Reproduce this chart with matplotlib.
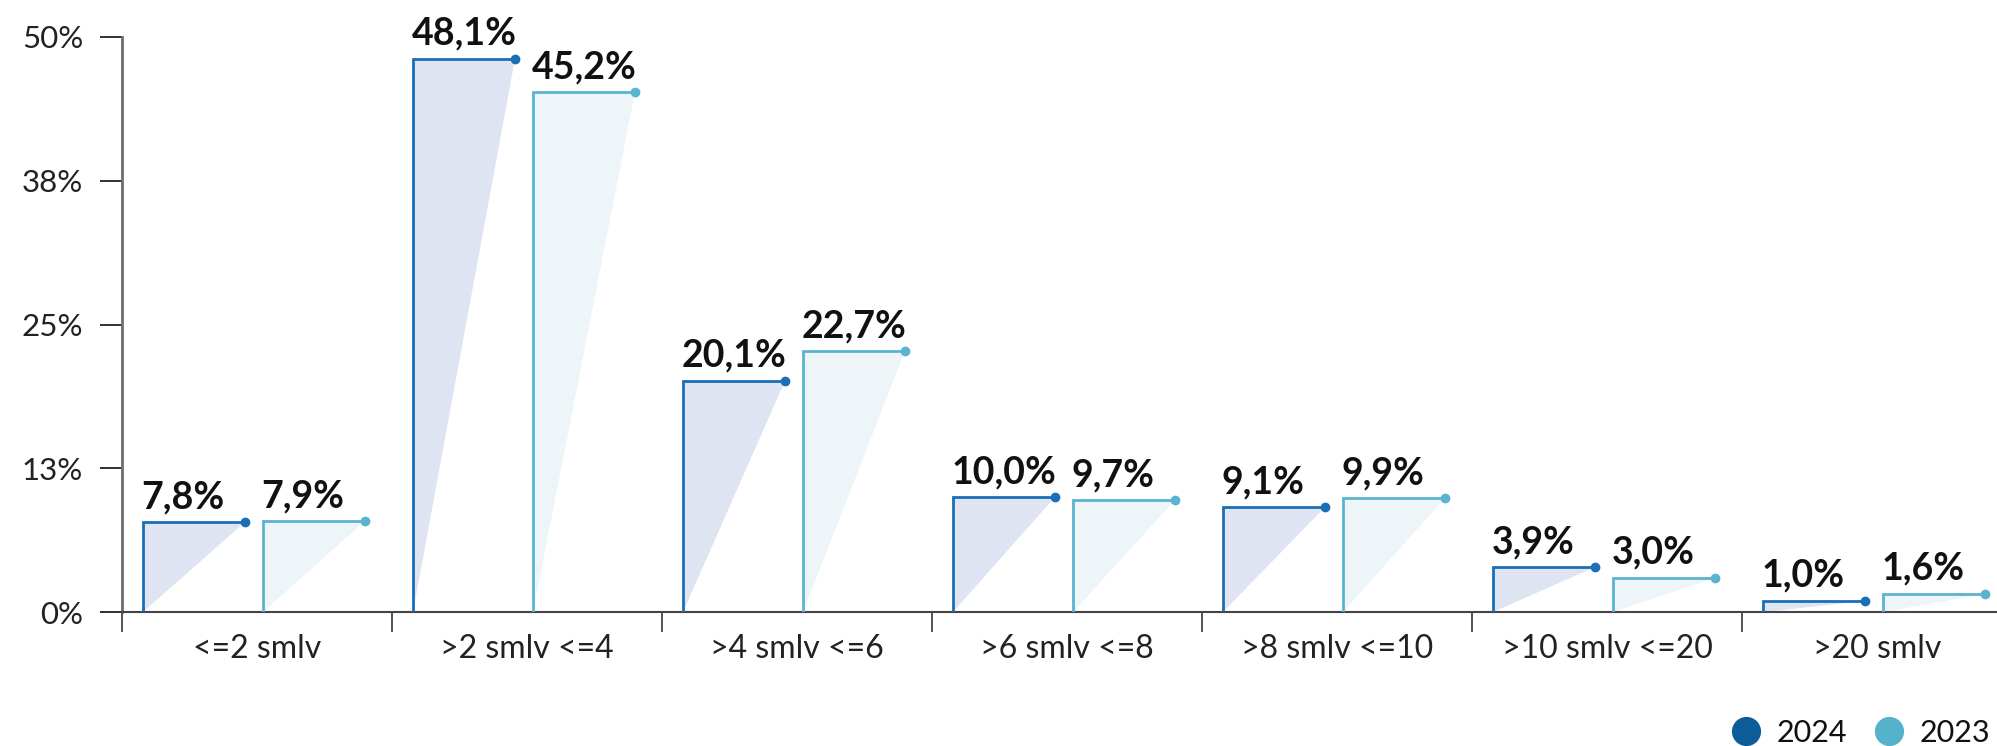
import matplotlib.pyplot as plt

plt.rcParams['font.family'] = ['Lato', 'DejaVu Sans']

categories = ['<=2 smlv', '>2 smlv <=4', '>4 smlv <=6', '>6 smlv <=8',
              '>8 smlv <=10', '>10 smlv <=20', '>20 smlv']
v2024 = [7.8, 48.1, 20.1, 10.0, 9.1, 3.9, 1.0]
v2023 = [7.9, 45.2, 22.7, 9.7, 9.9, 3.0, 1.6]
years = ['2024', '2023']
yticks = [0, 12.5, 25, 37.5, 50]
ytick_labels = ['0%', '13%', '25%', '38%', '50%']

line_cols = ['#1a6fb7', '#5bb4cf']
fill_cols = ['#dfe4f3', '#edf5f9']
legend_cols = ['#0b5c98', '#56b2cb']

W, H = 1997, 746
fig = plt.figure(figsize=(W / 100, H / 100), dpi=100)
left, base, top = 122, 612, 37
ax = fig.add_axes([left / W, (H - base) / H, 1 - left / W, (base - top) / H])

# layout in category units
step = 270.0
ax.set_xlim(0, (W - left) / step)
ax.set_ylim(0, 50)
off = 21 / step
bw = 102 / step
pair = 120 / step

for k, vals in enumerate([v2024, v2023]):
    for i, v in enumerate(vals):
        x0 = i + off + k * pair
        x1 = x0 + bw
        ax.fill([x0, x0, x1], [0, v, v], color=fill_cols[k], lw=0, zorder=2)
        ax.plot([x0, x0, x1], [0, v, v], color=line_cols[k], lw=2,
                solid_joinstyle='miter', zorder=3)
        ax.plot([x1], [v], 'o', color=line_cols[k], ms=6, zorder=4)
        ax.annotate(f'{v:.1f}%'.replace('.', ','), (x0, v), xytext=(-1, 10),
                    textcoords='offset points', ha='left', va='baseline',
                    fontsize=27, fontweight='bold', color='#111111')

# axes styling
for s in ['top', 'right']:
    ax.spines[s].set_visible(False)
ax.spines['left'].set_color('#6d6d6d')
ax.spines['left'].set_linewidth(2)
ax.spines['bottom'].set_color('#444444')
ax.spines['bottom'].set_linewidth(1.5)

ax.set_yticks(yticks)
ax.set_yticklabels(ytick_labels)
ax.tick_params(axis='y', length=16, width=1.3, color='#222222', pad=12,
               labelsize=22.5, labelcolor='#222222')

ax.set_xticks([i + 0.5 for i in range(len(categories))])
ax.set_xticklabels(categories)
ax.set_xticks(range(len(categories)), minor=True)
ax.tick_params(axis='x', which='major', length=0, pad=16, labelsize=23,
               labelcolor='#222222')
ax.tick_params(axis='x', which='minor', length=14.5, width=1.3,
               color='#444444', direction='out')

# legend drawn in pixel space along the bottom edge
lg = fig.add_axes([0, 0, 1, 1])
lg.set_xlim(0, W)
lg.set_ylim(H, 0)
lg.axis('off')
for (cx, tx), name, c in zip([(1746, 1777), (1889, 1920)], years, legend_cols):
    lg.plot([cx], [731], 'o', color=c, ms=20)
    lg.text(tx, 731, name, fontsize=22, color='#111111', va='center_baseline',
            ha='left')

fig.savefig('out.png', dpi=100)
